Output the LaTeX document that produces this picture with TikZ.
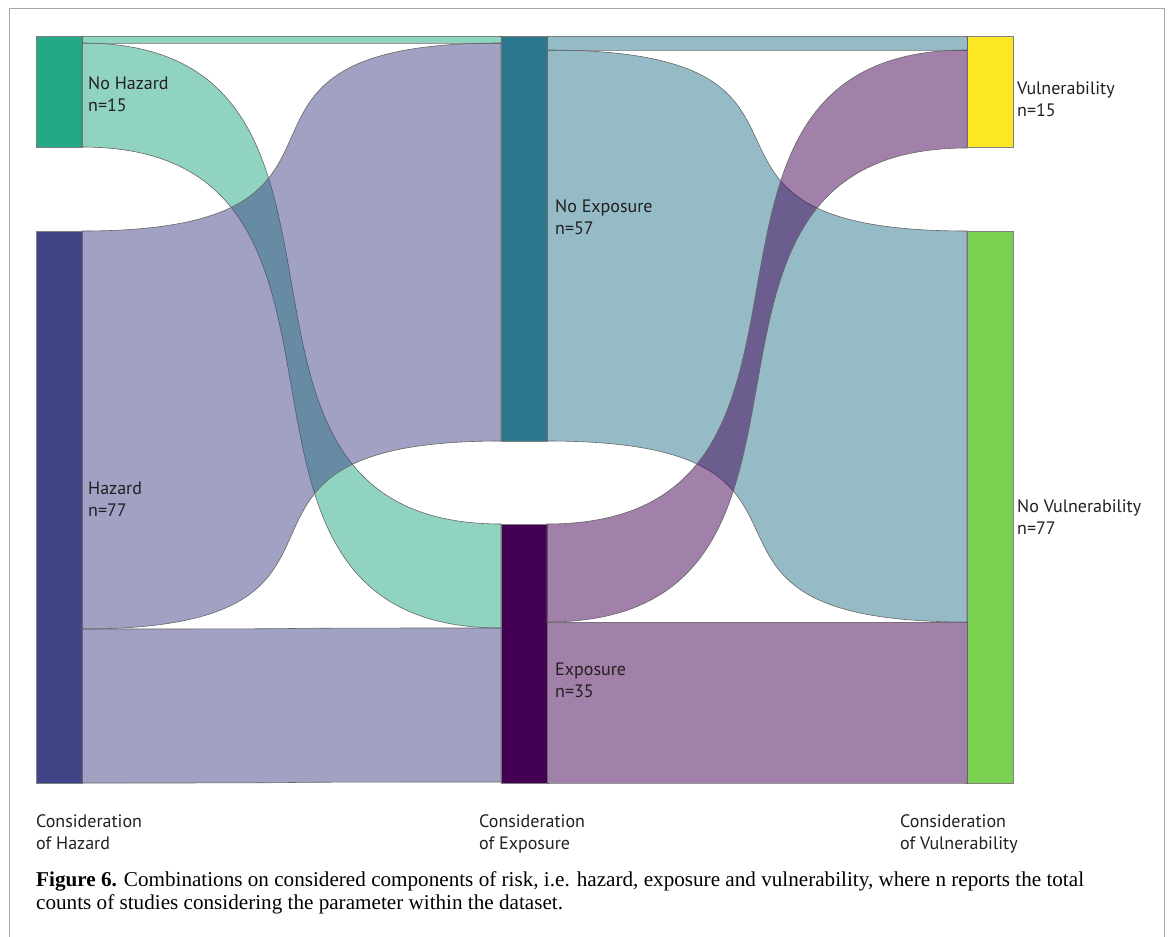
\documentclass[tikz,border=0pt]{standalone}
\usepackage{fontspec}
\setmainfont{Liberation Serif}
\newfontfamily\labelfont{PT Sans}
\usetikzlibrary{calc}

% node colours (viridis)
\definecolor{cNoHaz}{HTML}{22A884}
\definecolor{cHaz}{HTML}{414487}
\definecolor{cNoExp}{HTML}{2A788E}
\definecolor{cExp}{HTML}{440154}
\definecolor{cVul}{HTML}{FDE725}
\definecolor{cNoVul}{HTML}{7AD151}
\definecolor{txt}{HTML}{231F20}

\tikzset{
  stage/.style={draw=black!50, line width=0.6pt, inner sep=0pt, outer sep=0pt,
    anchor=north west, minimum width=46pt},
  band/.style={draw=black!60, line width=0.6pt, fill opacity=0.5},
  lbl/.style={anchor=base west, inner sep=0pt, text=txt,
    font=\labelfont\fontsize{18}{21}\selectfont},
  captext/.style={anchor=base west, inner sep=0pt, text=black,
    font=\fontsize{21.15}{24}\selectfont},
  frame/.style={draw=black!35, line width=1pt},
}

% \band{source}{offset at source}{target}{offset at target}{colour}{width}
\newcommand\band[6]{%
  \coordinate (st) at ($(#1.north east)+(0,#2)$);
  \coordinate (sb) at ($(st)+(0,#6)$);
  \coordinate (tt) at ($(#3.north west)+(0,#4)$);
  \coordinate (tb) at ($(tt)+(0,#6)$);
  \coordinate (ka) at ($(st)!0.8!(tt)$);
  \coordinate (kb) at ($(st)!0.2!(tt)$);
  \path[band, fill=#5] (st) .. controls (ka |- st) and (kb |- tt) .. (tt)
    -- (tb) .. controls (kb |- tb) and (ka |- sb) .. (sb) -- cycle;
}

\begin{document}
\begin{tikzpicture}[x=1pt, y=-1pt]
\useasboundingbox (0,0) rectangle (1171,937);
\draw[frame] (9,937) -- (9,8.5) -- (1164,8.5) -- (1164,937);

% stages
\node[stage, fill=cNoHaz, minimum height=111pt] (nh) at (36,36) {};
\node[stage, fill=cHaz,   minimum height=552pt] (hz) at (36,231) {};
\node[stage, fill=cNoExp, minimum height=405pt] (ne) at (501,36) {};
\node[stage, fill=cExp,   minimum height=259pt] (ex) at (501,524) {};
\node[stage, fill=cVul,   minimum height=111pt] (vu) at (967,36) {};
\node[stage, fill=cNoVul, minimum height=552pt] (nv) at (967,231) {};

% hazard -> exposure
\band{nh}{0}{ne}{0}{cNoHaz}{7}
\band{nh}{7}{ex}{0}{cNoHaz}{104}
\band{hz}{0}{ne}{7}{cHaz}{398}
\band{hz}{398}{ex}{104}{cHaz}{154}

% exposure -> vulnerability
\band{ne}{0}{vu}{0}{cNoExp}{14}
\band{ne}{14}{nv}{0}{cNoExp}{391}
\band{ex}{0}{vu}{14}{cExp}{98}
\band{ex}{98}{nv}{391}{cExp}{161}

% stage labels
\node[lbl] (nh-a) at (88,89.3) {No Hazard};
\node[lbl] (nh-b) at (88,111) {n=15};
\node[lbl] (hz-a) at (88,494.5) {Hazard};
\node[lbl] (hz-b) at (88,516) {n=77};
\node[lbl] (ne-a) at (555,212.5) {No Exposure};
\node[lbl] (ne-b) at (555,234) {n=57};
\node[lbl] (ex-a) at (555,675.7) {Exposure};
\node[lbl] (ex-b) at (555,697.3) {n=35};
\node[lbl] (vu-a) at (1017,94.5) {Vulnerability};
\node[lbl] (vu-b) at (1017,116) {n=15};
\node[lbl] (nv-a) at (1017,512.3) {No Vulnerability};
\node[lbl] (nv-b) at (1017,534) {n=77};

% axis labels
\node[lbl] (ax1a) at (36,827.7) {Consideration};
\node[lbl] (ax1b) at (36,849.3) {of Hazard};
\node[lbl] (ax2a) at (479,827.7) {Consideration};
\node[lbl] (ax2b) at (479,849.3) {of Exposure};
\node[lbl] (ax3a) at (900,827.7) {Consideration};
\node[lbl] (ax3b) at (900,849.3) {of Vulnerability};

% caption
\node[captext] (cap1) at (36,886) {\textbf{Figure 6.} Combinations on considered components of risk, i.e. hazard, exposure and vulnerability, where n reports the total};
\node[captext] (cap2) at (36,909) {counts of studies considering the parameter within the dataset.};
\end{tikzpicture}
\end{document}
